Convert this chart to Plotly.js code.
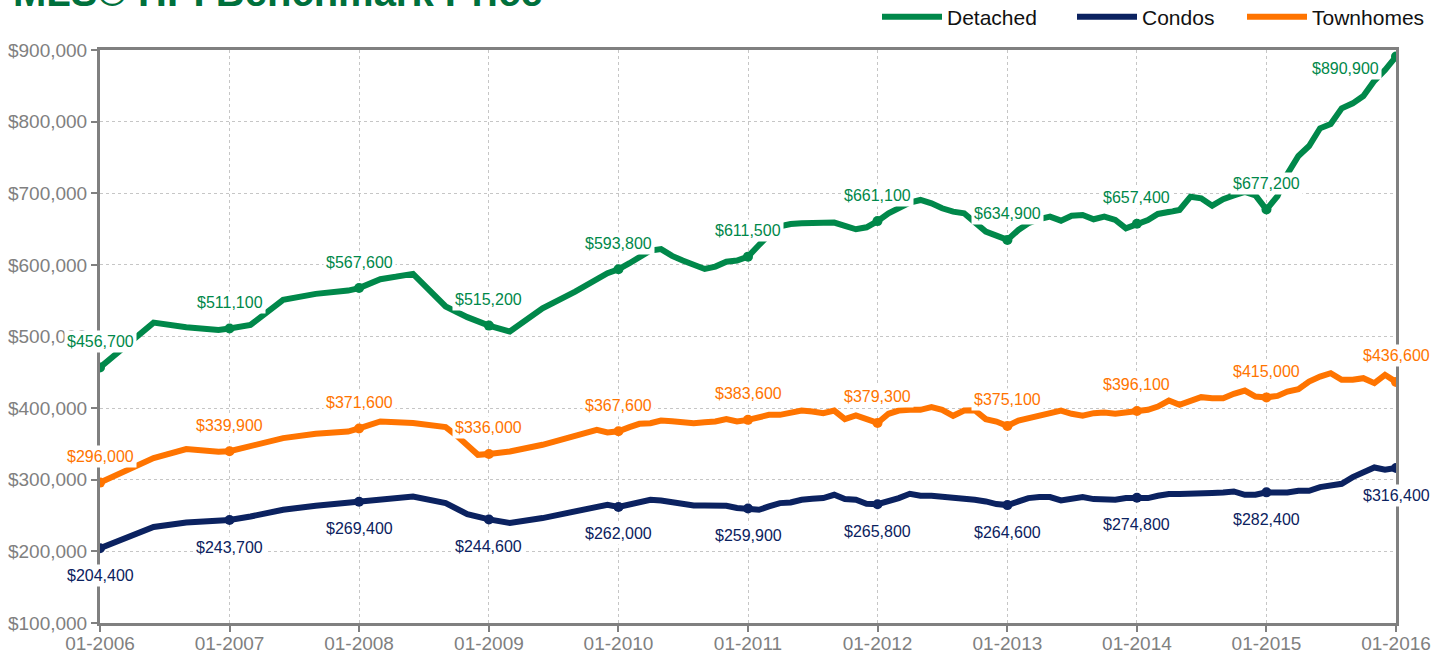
<!DOCTYPE html>
<html>
<head>
<meta charset="utf-8">
<script src="https://cdn.plot.ly/plotly-3.0.1.min.js"></script>
<style>
html,body{margin:0;padding:0;background:#fff;}
#chart{width:1448px;height:658px;}
</style>
</head>
<body>
<div id="chart"></div>
<script>
// ---------- DATA ----------
const chartTitle = 'MLS® HPI Benchmark Price';
const seriesNames = ['Detached', 'Condos', 'Townhomes'];

// monthly dates Jan 2010 .. Jan 2016
const monthly = [];
for (let y = 2010; y <= 2016; y++) {
  for (let m = 1; m <= 12; m++) {
    if (y === 2016 && m > 1) break;
    monthly.push(y + '-' + String(m).padStart(2, '0'));
  }
}

const detachedDates = ['2006-01','2006-06','2006-09','2006-12','2007-01','2007-03','2007-06','2007-09','2007-12',
  '2008-01','2008-03','2008-06','2008-09','2008-11','2009-01','2009-03','2009-06','2009-09','2009-12'].concat(monthly);
const detachedValues = [456700,519400,513000,509200,511100,516200,551100,559500,564100,
  567600,580000,587400,542000,527000,515200,506900,539500,562700,588300,
  // 2010
  593800,602300,610700,620000,622000,612500,606000,600000,594300,597600,604500,606000,
  // 2011
  611500,627800,642000,654000,657100,658100,658100,659000,659000,654300,649700,652500,
  // 2012
  661100,672100,679000,687000,690600,686000,679000,674300,672100,660000,646400,640800,
  // 2013
  634900,648800,658000,664000,667300,661700,668700,669700,663700,667300,662700,651100,
  // 2014
  657400,662700,671100,672900,676700,695200,693000,682700,691600,697000,702000,697000,
  // 2015
  677200,696000,727000,752000,766000,790700,796700,818600,825500,835800,857000,872000,
  // 2016
  890900];

const condoDates = ['2006-01','2006-06','2006-09','2006-12','2007-01','2007-03','2007-06','2007-09','2007-12',
  '2008-01','2008-03','2008-06','2008-09','2008-11','2009-01','2009-03','2009-06','2009-09','2009-12'].concat(monthly);
const condoValues = [204400,234000,240400,241500,243700,248700,258100,263700,268300,
  269400,273000,276700,267400,252000,244600,239500,246500,255700,265100,
  // 2010
  262000,265100,267400,272000,271000,268800,266000,264200,264200,264200,263700,260500,
  // 2011
  259900,258100,262700,267400,268300,272000,273400,274400,279000,273000,272000,266500,
  // 2012
  265800,269700,274400,280400,277600,277600,276700,274400,273400,272000,269700,266000,
  // 2013
  264600,270600,274400,275800,275800,271100,272900,275800,273000,272000,272000,274400,
  // 2014
  274800,274400,277600,280000,280000,280000,280000,281400,282200,283600,279000,279000,
  // 2015
  282400,282200,282200,284600,284600,289800,292000,294400,303700,309300,317100,313900,
  // 2016
  316400];

const townDates = ['2006-01','2006-06','2006-09','2006-12','2007-01','2007-03','2007-06','2007-09','2007-12',
  '2008-01','2008-03','2008-06','2008-09','2008-10','2008-12','2009-01','2009-03','2009-06','2009-09','2009-11','2009-12'].concat(monthly);
const townValues = [296000,330200,342800,339000,339900,346400,358100,364100,367300,
  371600,381300,379100,373500,362000,334800,336000,339500,348800,360400,369700,366000,
  // 2010
  367600,373500,378100,379000,382700,381800,379900,379000,380400,381300,384600,381300,
  // 2011
  383600,388300,390600,390600,393000,396600,395200,393000,396600,384600,389700,384600,
  // 2012
  379300,392100,396600,397600,397600,401300,397600,389300,396600,397000,384600,381300,
  // 2013
  375100,382700,386000,389300,394400,396600,392100,389300,393000,393900,392100,394400,
  // 2014
  396100,397600,402200,410600,404600,409200,415300,413900,413900,420000,424500,416200,
  // 2015
  415000,417100,423100,426500,437100,444100,448800,439500,439500,441800,434900,446500,
  // 2016
  436600];

const yearTicks = ['2006-01-01','2007-01-01','2008-01-01','2009-01-01','2010-01-01','2011-01-01',
  '2012-01-01','2013-01-01','2014-01-01','2015-01-01','2016-01-01'];

// ---------- STYLE ----------
const colors = {Detached: '#00884A', Condos: '#0B2260', Townhomes: '#FF7400'};
const FONT = 'Liberation Sans, Arial, Helvetica, sans-serif';

const series = [
  {name: 'Detached', dates: detachedDates, values: detachedValues, labelShift: 26, legend: 'legend', legendX: 877},
  {name: 'Condos', dates: condoDates, values: condoValues, labelShift: -27, legend: 'legend2', legendX: 1072},
  {name: 'Townhomes', dates: townDates, values: townValues, labelShift: 26, legend: 'legend3', legendX: 1242}
];

const PLOT_L = 100, PLOT_W = 1296, PLOT_H = 573;

const traces = [];
const annotations = [];
const legends = {};
series.forEach(s => {
  const c = colors[s.name];
  traces.push({
    x: s.dates, y: s.values, type: 'scatter', mode: 'lines', name: s.name,
    line: {color: c, width: 6}, hoverinfo: 'x+y', legend: s.legend
  });
  legends[s.legend] = {
    orientation: 'h', x: (s.legendX - PLOT_L) / PLOT_W, xanchor: 'left',
    y: 1 + 33 / PLOT_H, yanchor: 'middle',
    font: {family: FONT, size: 21, color: '#111111'}, bgcolor: 'rgba(0,0,0,0)',
    itemwidth: 60
  };
  const jx = [], jy = [];
  s.dates.forEach((d, i) => { if (d.endsWith('-01')) { jx.push(d); jy.push(s.values[i]); } });
  traces.push({
    x: jx, y: jy, type: 'scatter', mode: 'markers', showlegend: false,
    marker: {color: c, size: 10}, hoverinfo: 'skip', legend: s.legend
  });
  jx.forEach((d, i) => {
    const last = (i === jx.length - 1) && s.name === 'Detached';
    annotations.push({
      x: d, y: jy[i], xref: 'x', yref: 'y', showarrow: false,
      text: '$' + jy[i].toLocaleString('en-US'),
      font: {family: FONT, size: 16, color: c},
      bgcolor: '#ffffff', borderpad: 2,
      xanchor: 'center', yanchor: 'middle',
      xshift: last ? -51 : 0, yshift: last ? -12 : s.labelShift
    });
  });
});

annotations.push({
  text: '<b>' + chartTitle + '</b>', xref: 'paper', yref: 'paper',
  x: -89 / PLOT_W, y: 1, xanchor: 'left', yanchor: 'bottom', yshift: 34,
  showarrow: false, font: {family: FONT, size: 40, color: '#00703C'}
});

const gridGrey = '#c6c6c6';
const axisGrey = '#808080';

const layout = Object.assign({
  width: 1448, height: 658,
  margin: {l: 100, r: 52, t: 50, b: 35, autoexpand: false},
  paper_bgcolor: '#ffffff', plot_bgcolor: '#ffffff',
  font: {family: FONT},
  showlegend: true,
  xaxis: {
    type: 'date', range: ['2006-01-01', '2016-01-01'],
    tickmode: 'array', tickvals: yearTicks, tickformat: '%m-%Y',
    tickfont: {family: FONT, size: 19, color: axisGrey},
    ticklabelstandoff: -5,
    showgrid: true, gridcolor: gridGrey, griddash: 'dot', gridwidth: 1,
    showline: true, linecolor: axisGrey, linewidth: 3, mirror: true,
    ticks: 'outside', ticklen: 6, tickwidth: 2, tickcolor: axisGrey,
    zeroline: false, fixedrange: true
  },
  yaxis: {
    range: [100000, 900000], tickmode: 'linear', tick0: 100000, dtick: 100000,
    tickformat: '$,.0f',
    tickfont: {family: FONT, size: 19, color: axisGrey},
    showgrid: true, gridcolor: gridGrey, griddash: 'dot', gridwidth: 1,
    showline: true, linecolor: axisGrey, linewidth: 3, mirror: true,
    ticks: 'outside', ticklen: 6, tickwidth: 2, tickcolor: axisGrey,
    zeroline: false, fixedrange: true
  },
  annotations: annotations
}, legends);

Plotly.newPlot('chart', traces, layout, {displayModeBar: false, staticPlot: true});
</script>
</body>
</html>
